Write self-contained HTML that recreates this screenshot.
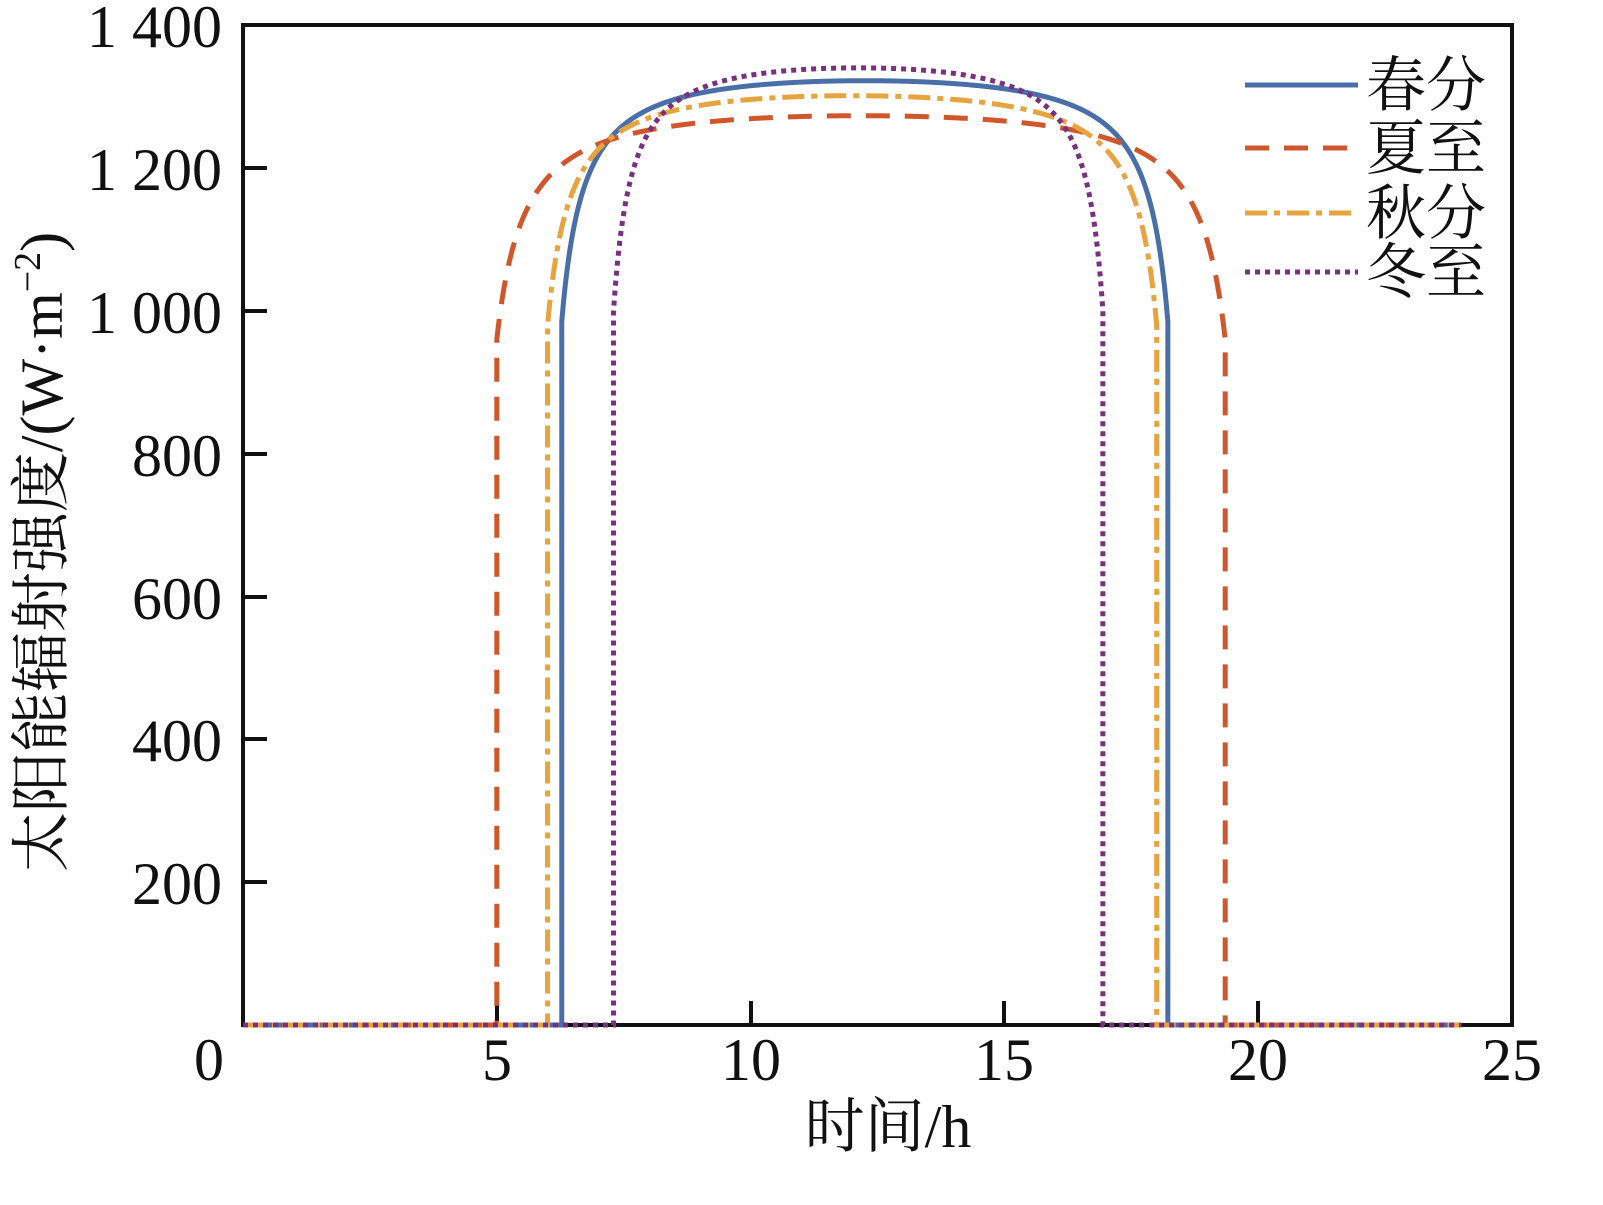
<!DOCTYPE html>
<html><head><meta charset="utf-8"><style>
body{margin:0;background:#fff}
svg text{font-family:"Liberation Serif","Noto Serif CJK SC",serif;fill:#111}
</style></head><body>
<svg id="s" width="1603" height="1200" xmlns="http://www.w3.org/2000/svg">
<rect x="0" y="0" width="1603" height="1200" fill="#fff"/>
<rect x="243" y="25" width="1269" height="1000" fill="none" stroke="#111" stroke-width="4"/>
<g stroke="#111" stroke-width="4">
<line x1="243" y1="168" x2="267" y2="168"/><line x1="243" y1="311" x2="267" y2="311"/>
<line x1="243" y1="454" x2="267" y2="454"/><line x1="243" y1="597" x2="267" y2="597"/>
<line x1="243" y1="739" x2="267" y2="739"/><line x1="243" y1="882" x2="267" y2="882"/>
<line x1="497" y1="1025" x2="497" y2="1001"/><line x1="751" y1="1025" x2="751" y2="1001"/>
<line x1="1004" y1="1025" x2="1004" y2="1001"/><line x1="1258" y1="1025" x2="1258" y2="1001"/>
</g>
<g id="curves"></g>
<g font-size="60" text-anchor="end">
<text x="222" y="47">1 400</text><text x="222" y="190">1 200</text><text x="222" y="333">1 000</text>
<text x="222" y="476">800</text><text x="222" y="619">600</text><text x="222" y="761">400</text>
<text x="222" y="904">200</text>
</g>
<g font-size="60" text-anchor="middle">
<text x="209" y="1080">0</text><text x="497" y="1080">5</text><text x="751" y="1080">10</text>
<text x="1004" y="1080">15</text><text x="1258" y="1080">20</text><text x="1512" y="1080">25</text>
</g>
<text x="888" y="1147" font-size="60" text-anchor="middle">时间/h</text>
<text transform="translate(62,552) rotate(-90)" font-size="60" text-anchor="middle">太阳能辐射强度/(W·m<tspan dy="-22" font-size="38">−2</tspan><tspan dy="22">)</tspan></text>
<g stroke-width="5" fill="none">
<line x1="1245" y1="85" x2="1358" y2="85" stroke="#4a6fa8"/>
<line x1="1245" y1="148" x2="1358" y2="148" stroke="#d0562c" stroke-dasharray="24,15"/>
<line x1="1245" y1="213" x2="1358" y2="213" stroke="#e6a33e" stroke-dasharray="22,7,6,7"/>
<line x1="1245" y1="272" x2="1358" y2="272" stroke="#7a3080" stroke-dasharray="5,5"/>
</g>
<g font-size="60">
<text x="1366" y="106">春分</text><text x="1366" y="169">夏至</text>
<text x="1366" y="234">秋分</text><text x="1366" y="293">冬至</text>
</g>
</svg>
<script>
const X=t=>243+t*50.76, Y=v=>1025-v*0.7143;
const series=[
 {ts:6.28,te:18.22,P:1322,I0:985,c:'#4a6fa8',d:''},
 {ts:5.0,te:19.35,P:1273,I0:960,c:'#d0562c',d:'24,15'},
 {ts:6.0,te:18.0,P:1301,I0:980,c:'#e6a33e',d:'22,7,6,7'},
 {ts:7.3,te:16.94,P:1340,I0:1000,c:'#7a3080',d:'5,5'}];
const k=0.03;let h='';
for(const s of series){
 const r=Math.log(s.P/s.I0)/k+1; const smin=1/r; const u0=Math.asin(smin)/Math.PI;
 const D=s.te-s.ts; const L=D/(1-2*u0); const d=u0*L;
 let p='M'+X(0)+','+Y(0)+' L'+X(s.ts)+','+Y(0);
 for(let i=0;i<=400;i++){const t=s.ts+D*i/400;const u=(t-s.ts+d)/L;const sn=Math.max(Math.sin(Math.PI*u),smin);
  const v=s.P*Math.exp(-k*(1/sn-1));p+=' L'+X(t).toFixed(2)+','+Y(v).toFixed(2);}
 p+=' L'+X(s.te)+','+Y(0)+' L'+X(24)+','+Y(0);
 h+=`<path d="${p}" fill="none" stroke="${s.c}" stroke-width="5" ${s.d?`stroke-dasharray="${s.d}"`:''}/>`;
}
document.getElementById('curves').innerHTML=h;
</script>
</body></html>
